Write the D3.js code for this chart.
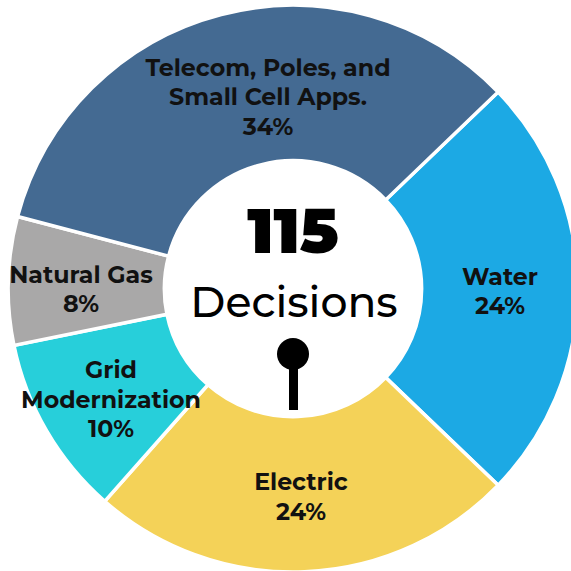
<!DOCTYPE html>
<html><head><meta charset="utf-8">
<script src="https://cdn.jsdelivr.net/npm/d3@7"></script>
<style>html,body{margin:0;padding:0;background:#fff}svg{display:block}</style>
</head><body><svg id="c" width="571" height="571"></svg>
<script>
const categories=["Water","Electric","Grid Modernization","Natural Gas","Telecom, Poles, and Small Cell Apps."];
const values=[24.4,24.3,10.3,7.3,33.7];
const colors=["#1CA9E4","#F4D258","#27CFDA","#A9A8A8","#446A92"];
const labelLines=[["Water","24%"],["Electric","24%"],["Grid","Modernization","10%"],["Natural Gas","8%"],["Telecom, Poles, and","Small Cell Apps.","34%"]];
const labelPos=[[500,291.5],[301,497],[111,399.5],[81,289.5],[268,97]];
const svg=d3.select("#c");
const cx=293,cy=288.7,ro=283.4,ri=128,stretchX=1.005;
const start=0.804;
const pie=d3.pie().sort(null).value(d=>d).startAngle(start).endAngle(start+2*Math.PI);
const arc=d3.arc().innerRadius(ri).outerRadius(ro);
svg.append("g").attr("transform",`translate(${cx},${cy}) scale(${stretchX},1)`).selectAll("path").data(pie(values)).join("path")
 .attr("d",arc).attr("fill",(d,i)=>colors[i]).attr("stroke","#fff").attr("stroke-width",3.5);
const font="Montserrat, Lato, 'Open Sans', sans-serif";
labelLines.forEach((ls,i)=>{
 const n=ls.length,lh=29.5;
 ls.forEach((t,j)=>svg.append("text").attr("x",labelPos[i][0]).attr("y",labelPos[i][1]+(j-(n-1)/2)*lh+8)
  .attr("text-anchor","middle").attr("font-family",font).attr("font-weight",700).attr("font-size",23.7).attr("fill","#111").text(t));
});
svg.append("text").attr("x",293).attr("y",253).attr("text-anchor","middle").attr("font-family",font).attr("font-weight",900).attr("font-size",63).attr("fill","#000").text("115");
svg.append("text").attr("x",294).attr("y",317).attr("text-anchor","middle").attr("font-family",font).attr("font-weight",500).attr("font-size",42.5).attr("fill","#000").text("Decisions");
svg.append("circle").attr("cx",293).attr("cy",354).attr("r",16).attr("fill","#000");
svg.append("rect").attr("x",289).attr("y",360).attr("width",9).attr("height",50).attr("fill","#000");
</script></body></html>
